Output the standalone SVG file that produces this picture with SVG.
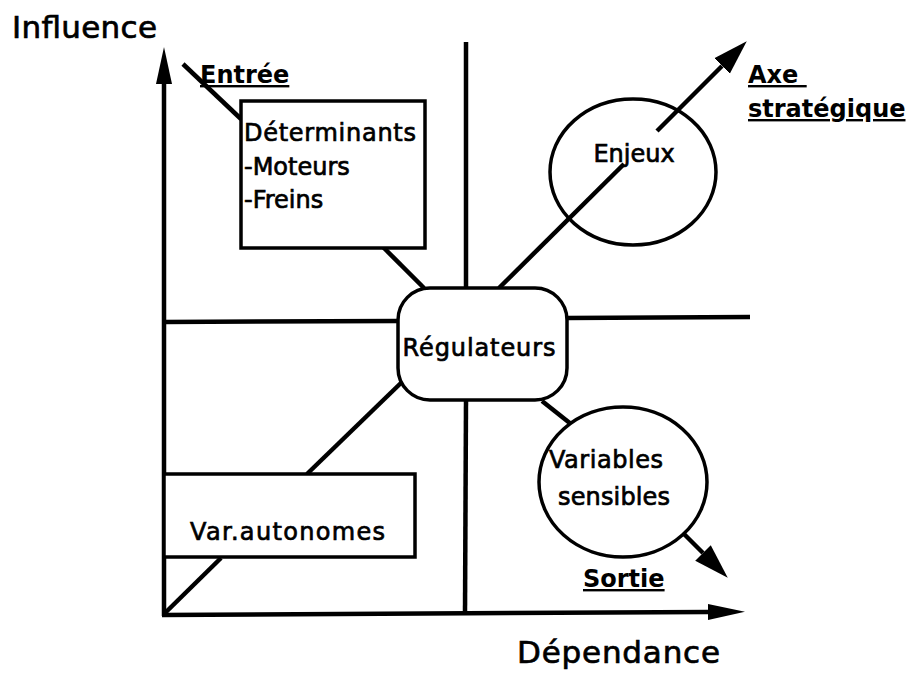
<svg xmlns="http://www.w3.org/2000/svg" width="915" height="677" viewBox="0 0 915 677">
<style>
  .t { font-family: "DejaVu Sans", "Liberation Sans", sans-serif; font-size: 24px; fill: #000; stroke: #000; stroke-width: 0.7px; }
  .ul { text-decoration: underline; stroke: none; font-weight: bold; }
  .shape { fill: #fff; stroke: #000; stroke-width: 3.5; }
  .ln { stroke: #000; stroke-width: 4.5; fill: none; stroke-linecap: butt; }
</style>
<defs>
  <marker id="axisHead" markerUnits="userSpaceOnUse" viewBox="0 -10 40 20" refX="0" refY="0" markerWidth="40" markerHeight="20" orient="auto">
    <path d="M0,-8 L37,0 L0,8 z" fill="#000"/>
  </marker>
  <marker id="diagHead" markerUnits="userSpaceOnUse" viewBox="0 -12 40 24" refX="0" refY="0" markerWidth="40" markerHeight="24" orient="auto">
    <path d="M0,-11 L35,0 L0,11 z" fill="#000"/>
  </marker>
</defs>
<rect width="915" height="677" fill="#fff"/>

<g id="connectors">
  <line class="ln" x1="164" y1="616" x2="164" y2="84" marker-end="url(#axisHead)"/>
  <line class="ln" x1="162" y1="615" x2="708" y2="612" marker-end="url(#axisHead)"/>
  <line class="ln" x1="466" y1="42" x2="466" y2="289"/>
  <line class="ln" x1="466" y1="400" x2="465" y2="614"/>
  <line class="ln" x1="164" y1="322" x2="399" y2="321"/>
  <line class="ln" x1="566" y1="318" x2="750" y2="317"/>
  <line class="ln" x1="183" y1="64" x2="241" y2="119"/>
  <line class="ln" x1="383" y1="247" x2="424" y2="288"/>
  <line class="ln" x1="499" y1="288" x2="624" y2="164"/>
  <line class="ln" x1="657" y1="131" x2="722" y2="66" marker-end="url(#diagHead)"/>
  <line class="ln" x1="542" y1="401" x2="571" y2="424"/>
  <line class="ln" x1="683" y1="533" x2="703" y2="553" marker-end="url(#diagHead)"/>
  <line class="ln" x1="403" y1="381" x2="307" y2="474"/>
  <line class="ln" x1="221" y1="558" x2="165" y2="613"/>
</g>

<g id="determinants">
  <rect class="shape" x="241" y="101" width="184" height="147"/>
  <text class="t" x="244" y="141" textLength="172">Déterminants</text>
  <text class="t" x="244" y="175">-Moteurs</text>
  <text class="t" x="244" y="208">-Freins</text>
</g>

<g id="enjeux">
  <ellipse class="shape" cx="633" cy="172" rx="83" ry="73" style="fill:none"/>
  <text class="t" x="634" y="162" text-anchor="middle">Enjeux</text>
</g>

<g id="regulateurs">
  <rect class="shape" x="398" y="288" width="169" height="112" rx="32" ry="32"/>
  <text class="t" x="479" y="356" text-anchor="middle" textLength="153">Régulateurs</text>
</g>

<g id="variables">
  <ellipse class="shape" cx="623" cy="482" rx="84" ry="75"/>
  <text class="t" x="549" y="468" textLength="114">Variables</text>
  <text class="t" x="558" y="505" textLength="112">sensibles</text>
</g>

<g id="autonomes">
  <rect class="shape" x="164" y="474" width="251" height="83"/>
  <text class="t" x="190" y="540" textLength="195">Var.autonomes</text>
</g>

<g id="labels">
  <text class="t" x="12" y="38" textLength="145" style="font-size:31px">Influence</text>
  <text class="t" x="517" y="663" textLength="203" style="font-size:31px">Dépendance</text>
  <text class="t ul" x="200" y="83">Entrée</text>
  <text class="t ul" x="748" y="83" xml:space="preserve">Axe </text>
  <text class="t ul" x="748" y="117">stratégique</text>
  <text class="t ul" x="583" y="587">Sortie</text>
</g>
</svg>
